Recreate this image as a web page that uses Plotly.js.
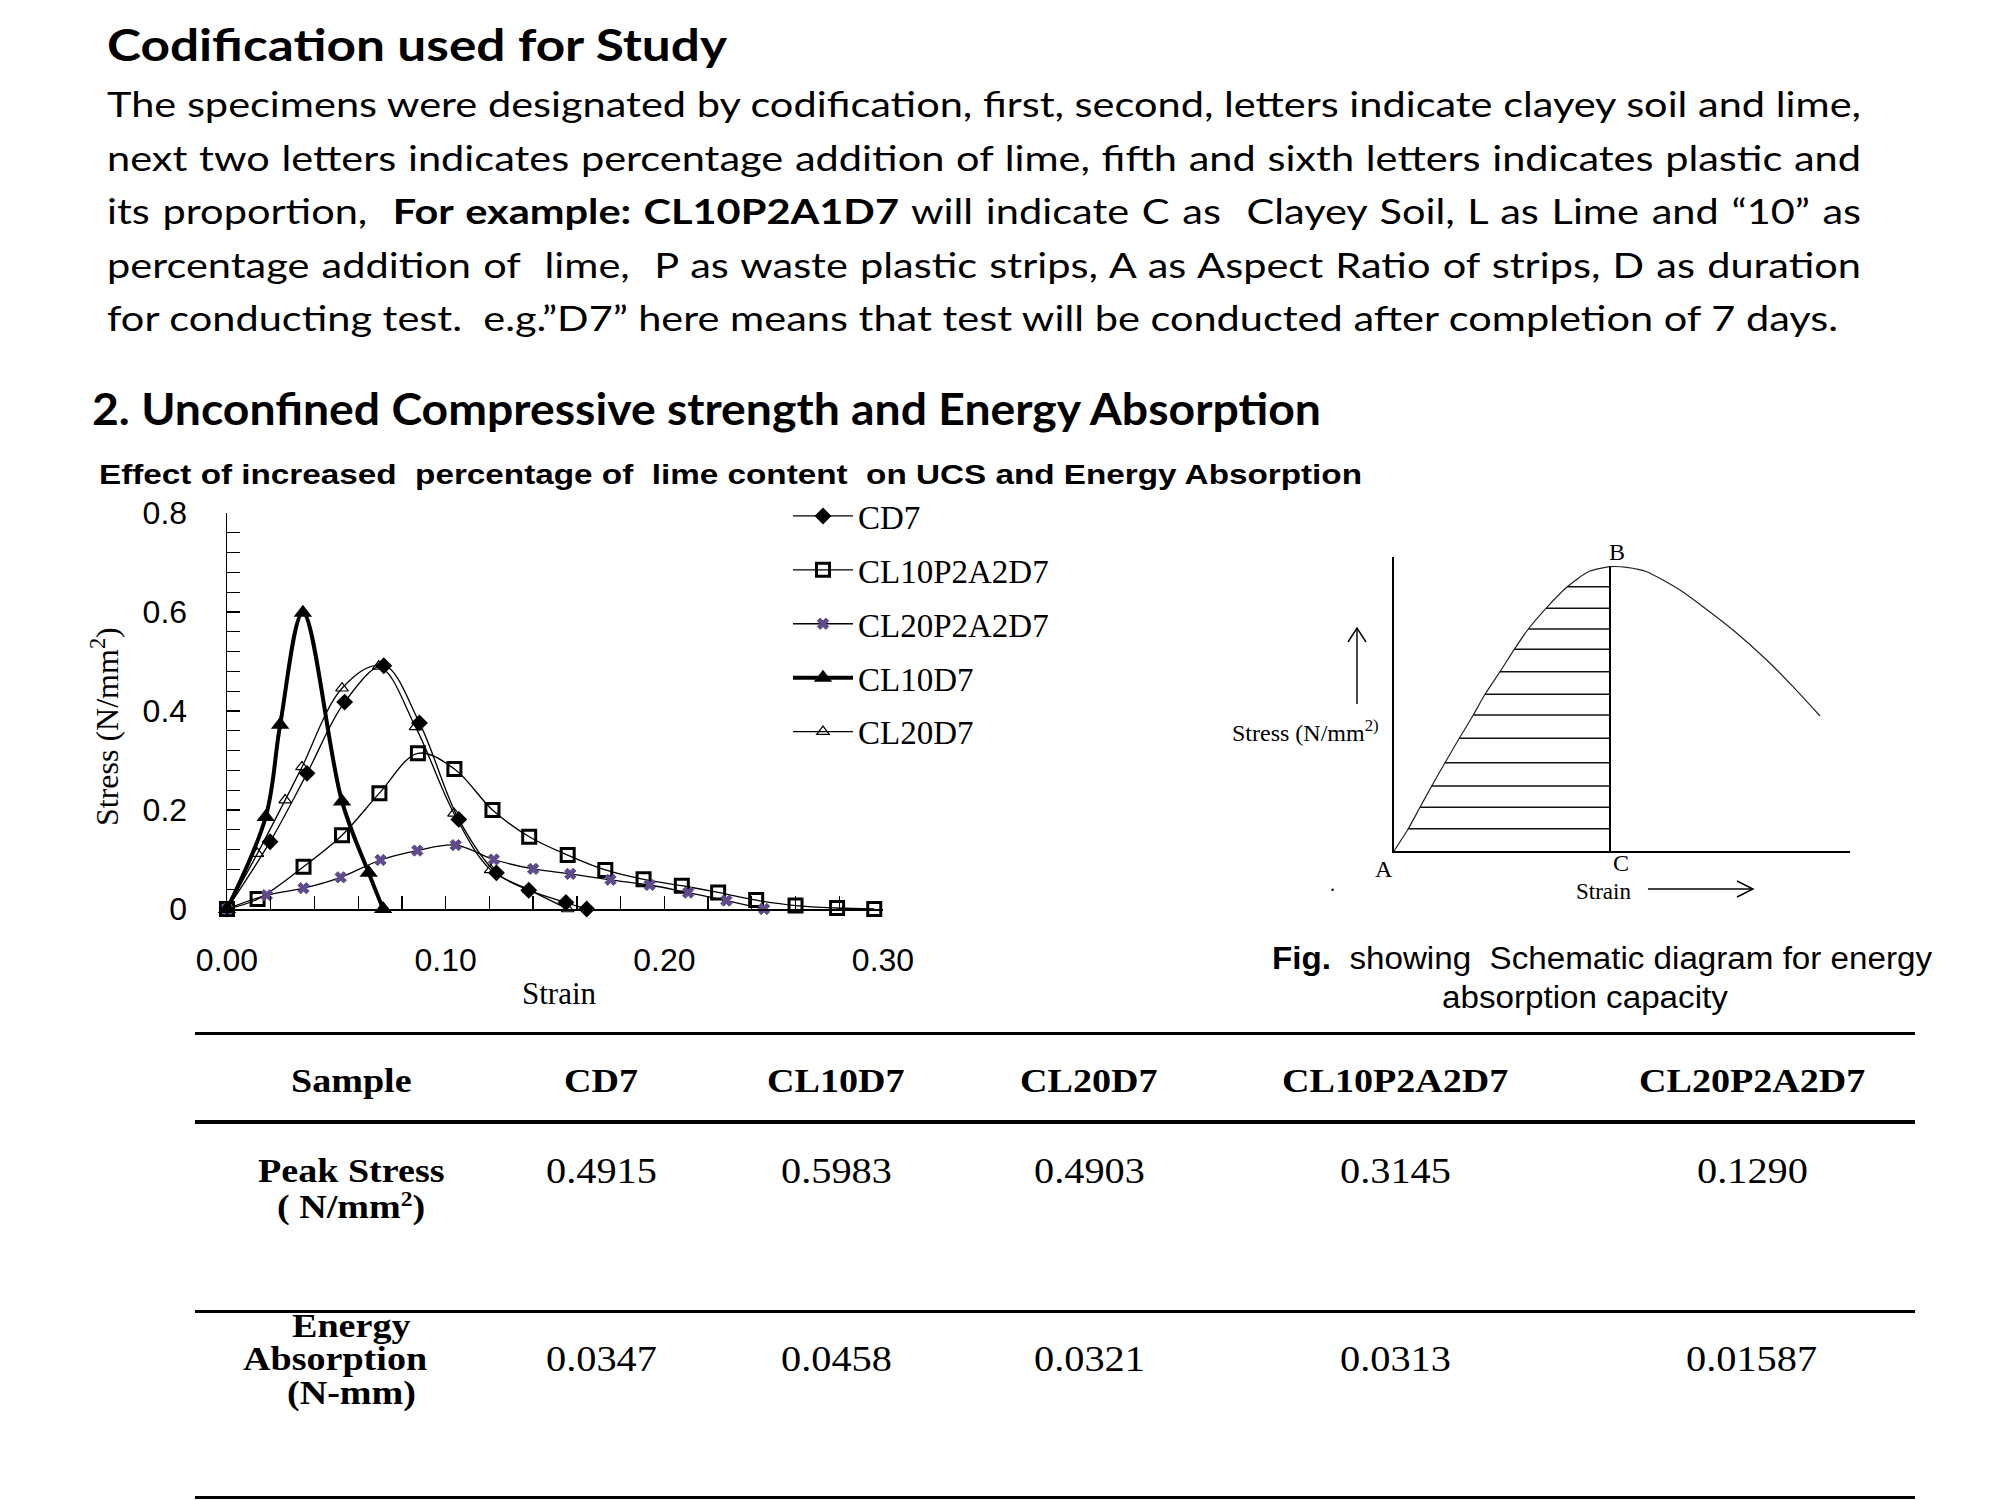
<!DOCTYPE html>
<html><head><meta charset="utf-8">
<script src="https://cdn.plot.ly/plotly-3.0.1.min.js"></script>
<style>
html,body{margin:0;padding:0;background:#fff;}
#page{position:relative;width:2000px;height:1500px;overflow:hidden;background:#fff;}
#plot{position:absolute;left:0;top:0;width:2000px;height:1500px;}
.t{position:absolute;white-space:nowrap;color:#000;line-height:1;transform-origin:0 0;}
.hl{position:absolute;background:#000;}
</style></head>
<body><div id="page"><div id="plot"></div></div>
<script>
// ---------------- data ----------------
const seriesNames = ["CD7", "CL10P2A2D7", "CL20P2A2D7", "CL10D7", "CL20D7"];
const strainCD7 = [0, 0.0197, 0.0366, 0.0538, 0.0717, 0.088, 0.106, 0.1232, 0.138, 0.155, 0.1645];
const stressCD7 = [0, 0.136, 0.274, 0.418, 0.4915, 0.376, 0.181, 0.073, 0.038, 0.013, 0];
const strainCL10P2A2D7 = [0, 0.014, 0.035, 0.0526, 0.0697, 0.0873, 0.104, 0.1214, 0.1382, 0.1558, 0.173, 0.1905, 0.208, 0.2246, 0.242, 0.260, 0.279, 0.296];
const stressCL10P2A2D7 = [0, 0.020, 0.0855, 0.149, 0.234, 0.3145, 0.283, 0.200, 0.146, 0.109, 0.079, 0.060, 0.047, 0.0335, 0.018, 0.007, 0.002, 0];
const strainCL20P2A2D7 = [0, 0.0182, 0.035, 0.052, 0.0702, 0.087, 0.1046, 0.122, 0.140, 0.157, 0.1754, 0.1933, 0.2109, 0.2284, 0.2456];
const stressCL20P2A2D7 = [0, 0.028, 0.042, 0.064, 0.099, 0.118, 0.129, 0.100, 0.081, 0.071, 0.059, 0.0485, 0.033, 0.017, 0];
const strainCL10D7 = [0, 0.0177, 0.0243, 0.0347, 0.0526, 0.0648, 0.0714];
const stressCL10D7 = [0, 0.186, 0.372, 0.5983, 0.217, 0.073, 0];
const strainCL20D7 = [0, 0.0139, 0.0266, 0.0343, 0.0526, 0.0694, 0.0862, 0.1038, 0.1206, 0.138, 0.1558];
const stressCL20D7 = [0, 0.112, 0.220, 0.287, 0.446, 0.4903, 0.368, 0.193, 0.079, 0.039, 0];

// schematic diagram (arbitrary units)
const schemStrain = [0, 14.3, 26, 37.7, 51, 65.3, 79.3, 91, 106, 120.3, 134.3, 152, 173.3, 194.3, 216, 232.7, 252.7, 286, 309, 339, 372.7, 399, 426];
const schemStress = [0, 22.3, 43.7, 65, 88.3, 112.7, 136, 156.7, 179.3, 201.7, 222, 242.7, 264.3, 279.3, 284.3, 283.7, 279.3, 261, 244.3, 221, 191, 164.3, 135];
const schemHatchCount = 12;

const tableHeader = ["Sample", "CD7", "CL10D7", "CL20D7", "CL10P2A2D7", "CL20P2A2D7"];
const peakStress = ["0.4915", "0.5983", "0.4903", "0.3145", "0.1290"];
const energyAbsorption = ["0.0347", "0.0458", "0.0321", "0.0313", "0.01587"];

// ---------------- chart ----------------
const W = 2000, H = 1500;
const px = v => v / W, py = v => 1 - v / H;
const SANSF = 'Liberation Sans, Arial, sans-serif';
const SERIFF = 'Liberation Serif, Times New Roman, serif';

const thin = {color: '#000', width: 1.3, shape: 'spline', smoothing: 1};
const traces = [
  {name: seriesNames[0], x: strainCD7, y: stressCD7, legendgroup: 'a',
   line: thin, marker: {symbol: 'diamond', size: 13, color: '#000'}},
  {name: seriesNames[1], x: strainCL10P2A2D7, y: stressCL10P2A2D7, legendgroup: 'b',
   line: thin, marker: {symbol: 'square-open', size: 13, color: '#000', line: {width: 3, color: '#000'}}},
  {name: seriesNames[2], x: strainCL20P2A2D7, y: stressCL20P2A2D7, legendgroup: 'c',
   line: thin, marker: {symbol: 'x', size: 10, color: '#5F4B8B', line: {width: 1, color: '#5F4B8B'}}},
  {name: seriesNames[3], x: strainCL10D7, y: stressCL10D7, legendgroup: 'd',
   line: {color: '#000', width: 4, shape: 'spline', smoothing: 1}, marker: {symbol: 'triangle-up', size: 16, color: '#000'}},
  {name: seriesNames[4], x: strainCL20D7, y: stressCL20D7, legendgroup: 'e',
   line: thin, marker: {symbol: 'triangle-up-open', size: 11, color: '#000', line: {width: 1.2, color: '#000'}}}
].map(t => Object.assign({type: 'scatter', mode: 'lines+markers', cliponaxis: false, xaxis: 'x', yaxis: 'y'}, t));

// schematic traces
const peakIdx = schemStress.indexOf(Math.max(...schemStress));
const hx = [], hy = [];
for (let i = 1; i <= schemHatchCount; i++) {
  hx.push(schemStrain[i], schemStrain[peakIdx], null);
  hy.push(schemStress[i], schemStress[i], null);
}
traces.push(
  {type: 'scatter', mode: 'lines', x: schemStrain, y: schemStress, xaxis: 'x2', yaxis: 'y2', showlegend: false,
   line: {color: '#222', width: 1.2, shape: 'spline', smoothing: 0.6}, hoverinfo: 'skip'},
  {type: 'scatter', mode: 'lines', x: hx, y: hy, xaxis: 'x2', yaxis: 'y2', showlegend: false,
   line: {color: '#111', width: 1.6}, hoverinfo: 'skip'},
  {type: 'scatter', mode: 'lines', x: [schemStrain[peakIdx], schemStrain[peakIdx]], y: [0, schemStress[peakIdx]],
   xaxis: 'x2', yaxis: 'y2', showlegend: false, line: {color: '#000', width: 2}, hoverinfo: 'skip'}
);

// arrow shapes (paper coords)
const P = (x, y) => px(x) + ',' + py(y);
const arrowLine = {type: 'path', xref: 'paper', yref: 'paper', line: {color: '#000', width: 1.4}};
const shapes = [
  Object.assign({path: 'M' + P(1357, 704) + 'L' + P(1357, 628)}, arrowLine),
  Object.assign({path: 'M' + P(1348, 642) + 'L' + P(1357, 628) + 'L' + P(1366, 642)}, arrowLine),
  Object.assign({path: 'M' + P(1648, 889) + 'L' + P(1753, 889)}, arrowLine),
  Object.assign({path: 'M' + P(1737, 881) + 'L' + P(1753, 889) + 'L' + P(1737, 897)}, arrowLine)
];

const layout = {
  width: W, height: H, margin: {l: 0, r: 0, t: 0, b: 0},
  paper_bgcolor: 'rgba(0,0,0,0)', plot_bgcolor: 'rgba(0,0,0,0)',
  showlegend: true,
  legend: {x: px(788), y: py(488), xanchor: 'left', yanchor: 'top', bgcolor: 'rgba(0,0,0,0)',
           font: {family: SERIFF, size: 33, color: '#000'}, tracegroupgap: 8, itemwidth: 60},
  xaxis: {domain: [px(227), px(883)], range: [0, 0.30], anchor: 'y', showline: true, linecolor: '#000', linewidth: 1.5,
          ticks: 'inside', ticklen: 13, tickwidth: 1.3, tickcolor: '#000', dtick: 0.1, tick0: 0, tickformat: '.2f',
          minor: {dtick: 0.02, ticks: 'inside', ticklen: 13, tickwidth: 1.3, tickcolor: '#000', showgrid: false},
          showgrid: false, zeroline: false, fixedrange: true, ticklabelstandoff: 22,
          tickfont: {family: SANSF, size: 32, color: '#000'}},
  yaxis: {domain: [py(909), py(513)], range: [0, 0.8], anchor: 'x', showline: true, linecolor: '#000', linewidth: 1.5,
          ticks: 'inside', ticklen: 13, tickwidth: 1.3, tickcolor: '#000', dtick: 0.2, tick0: 0,
          minor: {dtick: 0.04, ticks: 'inside', ticklen: 13, tickwidth: 1.3, tickcolor: '#000', showgrid: false},
          showgrid: false, zeroline: false, fixedrange: true, ticklabelstandoff: 32,
          tickfont: {family: SANSF, size: 32, color: '#000'}},
  xaxis2: {domain: [px(1394), px(1850)], range: [0, 456], anchor: 'y2', showline: true, linecolor: '#000', linewidth: 2,
           showticklabels: false, ticks: '', showgrid: false, zeroline: false, fixedrange: true},
  yaxis2: {domain: [py(851), py(557)], range: [0, 294], anchor: 'x2', showline: true, linecolor: '#000', linewidth: 2,
           showticklabels: false, ticks: '', showgrid: false, zeroline: false, fixedrange: true},
  shapes: shapes,
  annotations: [
    {text: 'Stress (N/mm<sup>2</sup>)', x: px(105), y: py(727), textangle: -90, font: {family: SERIFF, size: 32, color: '#000'}},
    {text: 'Strain', x: px(559), y: py(993), font: {family: SERIFF, size: 31, color: '#000'}},
    {text: 'B', x: px(1617), y: py(552), font: {family: SERIFF, size: 24, color: '#000'}},
    {text: 'C', x: px(1621), y: py(863), font: {family: SERIFF, size: 24, color: '#000'}},
    {text: 'A', x: px(1384), y: py(869), font: {family: SERIFF, size: 24, color: '#000'}},
    {text: 'Strain', x: px(1603), y: py(891), font: {family: SERIFF, size: 23, color: '#000'}},
    {text: 'Stress (N/mm<sup>2)</sup>', x: px(1381), y: py(731), xanchor: 'right', font: {family: SERIFF, size: 24, color: '#000'}},
    {text: '.', x: px(1332), y: py(884), font: {family: SERIFF, size: 20, color: '#000'}}
  ].map(a => Object.assign({xref: 'paper', yref: 'paper', showarrow: false, xanchor: 'center', yanchor: 'middle'}, a))
};

Plotly.newPlot('plot', traces, layout, {staticPlot: true, displayModeBar: false});

// ---------------- text (HTML) ----------------
const page = document.getElementById('page');
const LATO = 'Lato, "Open Sans", sans-serif';
const SANS = '"Liberation Sans", Arial, sans-serif';
const SERIF = '"Liberation Serif", "Times New Roman", serif';
const CAP = {}; CAP[LATO] = 0.529; CAP[SANS] = 0.49; CAP[SERIF] = 0.506;

function mk(html, font, fs, weight) {
  const d = document.createElement('div');
  d.className = 't';
  d.style.fontFamily = font; d.style.fontSize = fs + 'px';
  if (weight) d.style.fontWeight = weight;
  d.innerHTML = html;
  page.appendChild(d);
  return d;
}
// place text: x anchor, yc = cap centre, targetW (optional) -> horizontal scale
function put(html, font, fs, x, yc, opt) {
  opt = opt || {};
  const d = mk(html, font, fs, opt.weight);
  const nat = d.getBoundingClientRect().width;
  const sx = opt.sx || (opt.w ? opt.w / nat : 1);
  const w = nat * sx;
  const left = opt.align === 'center' ? x - w / 2 : (opt.align === 'right' ? x - w : x);
  d.style.left = left + 'px';
  d.style.top = (yc - CAP[font] * fs) + 'px';
  d.style.transform = 'scaleX(' + sx + ')';
  return sx;
}

// headings
put('Codification used for Study', LATO, 44, 107, 45, {w: 620, weight: 700});
put('2. Unconfined Compressive strength and Energy Absorption', LATO, 43, 92, 410, {w: 1229, weight: 700});

// body paragraph
const bodyLines = [
  'The specimens were designated by codification, first, second, letters indicate clayey soil and lime,',
  'next two letters indicates percentage addition of lime, fifth and sixth letters indicates plastic and',
  'its proportion,&nbsp; <b>For example: CL10P2A1D7</b> will indicate C as&nbsp; Clayey Soil, L as Lime and \u201c10\u201d as',
  'percentage addition of&nbsp; lime,&nbsp; P as waste plastic strips, A as Aspect Ratio of strips, D as duration',
  'for conducting test.&nbsp; e.g.\u201dD7\u201d here means that test will be conducted after completion of 7 days.'
];
const bodyY = [105, 158.5, 212, 265.5, 319];
const fsBody = 34, bodyLeft = 107, bodyW = 1754;
const nats = bodyLines.map(h => { const d = mk(h, LATO, fsBody); const w = d.getBoundingClientRect().width; d.remove(); return w; });
const sxBody = bodyW / Math.max(...nats.slice(0, 4));
bodyLines.forEach((h, i) => {
  const d = mk(h, LATO, fsBody);
  d.style.left = bodyLeft + 'px';
  d.style.top = (bodyY[i] - CAP[LATO] * fsBody) + 'px';
  if (i < 4) {
    d.style.width = (bodyW / sxBody) + 'px';
    d.style.textAlign = 'justify';
    d.style.textAlignLast = 'justify';
  }
  d.style.transform = 'scaleX(' + sxBody + ')';
});

// chart subtitle
put('Effect of increased&nbsp; percentage of&nbsp; lime content&nbsp; on UCS and Energy Absorption', SANS, 27, 99, 475, {w: 1263, weight: 700});

// schematic caption
const sxCap = put('<b>Fig.</b>&nbsp; showing&nbsp; Schematic diagram for energy', SANS, 31, 1272, 958, {w: 660});
put('absorption capacity', SANS, 31, 1585, 997, {align: 'center', sx: sxCap});

// table
function hline(x1, x2, y, th) {
  const d = document.createElement('div'); d.className = 'hl';
  d.style.left = x1 + 'px'; d.style.width = (x2 - x1) + 'px';
  d.style.top = (y - th / 2) + 'px'; d.style.height = th + 'px';
  page.appendChild(d);
}
hline(195, 1915, 1033, 3);
hline(195, 1915, 1122, 4);
hline(195, 1915, 1311, 3);
hline(195, 1915, 1497, 3);
const colX = [351, 601, 836, 1089, 1395, 1752];
const tfs = 34, tsx = 1.12;
tableHeader.forEach((h, i) => put(h, SERIF, tfs, colX[i], 1081, {align: 'center', sx: tsx, weight: 700}));
put('Peak Stress', SERIF, tfs, colX[0], 1171.5, {align: 'center', sx: tsx, weight: 700});
put('( N/mm<sup style="font-size:0.62em;vertical-align:0.55em">2</sup>)', SERIF, tfs, colX[0], 1206, {align: 'center', sx: tsx, weight: 700});
peakStress.forEach((v, i) => put(v, SERIF, tfs + 2, colX[i + 1], 1171.5, {align: 'center', sx: tsx}));
put('Energy', SERIF, tfs, colX[0], 1326, {align: 'center', sx: tsx, weight: 700});
put('Absorption', SERIF, tfs, 335, 1359, {align: 'center', sx: tsx, weight: 700});
put('(N-mm)', SERIF, tfs, colX[0], 1393, {align: 'center', sx: tsx, weight: 700});
energyAbsorption.forEach((v, i) => put(v, SERIF, tfs + 2, colX[i + 1], 1359, {align: 'center', sx: tsx}));
</script>
</body></html>
